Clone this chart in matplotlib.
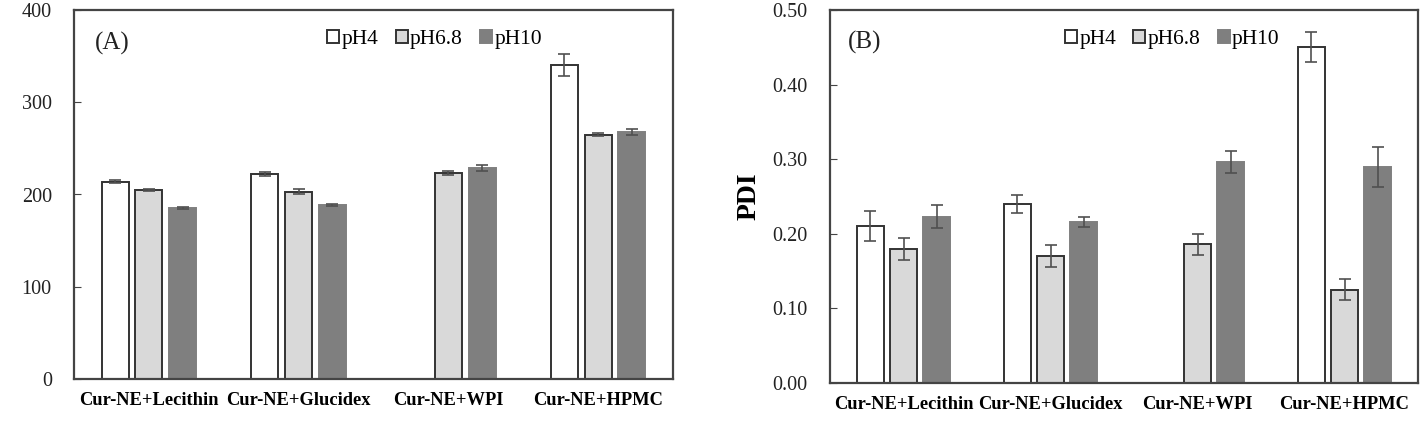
import matplotlib.pyplot as plt
import numpy as np

plt.rcParams['font.family'] = 'Liberation Serif'

groups = ['Cur-NE+Lecithin', 'Cur-NE+Glucidex', 'Cur-NE+WPI', 'Cur-NE+HPMC']
series = ['pH4', 'pH6.8', 'pH10']

# panel A: size
size_ph4 = [214, 222, np.nan, 340]
size_ph68 = [205, 203, 223, 265]
size_ph10 = [185, 189, 229, 268]
size_err_ph4 = [2, 2, np.nan, 12]
size_err_ph68 = [1, 3, 2, 2]
size_err_ph10 = [1, 1, 3, 3]

# panel B: PDI
pdi_ph4 = [0.21, 0.24, np.nan, 0.45]
pdi_ph68 = [0.18, 0.17, 0.186, 0.125]
pdi_ph10 = [0.223, 0.216, 0.296, 0.29]
pdi_err_ph4 = [0.02, 0.012, np.nan, 0.02]
pdi_err_ph68 = [0.015, 0.015, 0.014, 0.014]
pdi_err_ph10 = [0.015, 0.007, 0.015, 0.027]

faces = ['white', '#d9d9d9', '#7f7f7f']
edges = ['#333333', '#333333', '#7f7f7f']

W, H = 1425, 423
fig = plt.figure(figsize=(W / 100, H / 100), dpi=100)
axA = fig.add_axes([74 / W, (H - 379) / H, 599 / W, 369 / H])
axB = fig.add_axes([830 / W, (H - 383) / H, 588 / W, 373 / H])


def draw(ax, vals, errs, ylim, yticks, fmt, tag, tagpos, legx, legy):
    x = np.arange(len(groups))
    for i, (v, e) in enumerate(zip(vals, errs)):
        ax.bar(x + (i - 1) * 0.225, v, 0.18, color=faces[i], edgecolor=edges[i],
               linewidth=1.4, label=series[i], zorder=2)
        ax.errorbar(x + (i - 1) * 0.225, v, yerr=e, fmt='none', ecolor='#505050',
                    elinewidth=1.2, capsize=4, capthick=1.2, zorder=3)
    ax.set_xlim(-0.5, 3.5)
    ax.set_ylim(*ylim)
    ax.set_yticks(yticks)
    ax.set_yticklabels([fmt.format(t) for t in yticks], fontsize=14.5, color='#222222')
    ax.set_xticks(x)
    ax.set_xticklabels(groups, fontsize=13.3, fontweight='bold')
    ax.tick_params(axis='x', length=0, pad=9)
    ax.tick_params(axis='y', direction='in', length=5, color='#444444', pad=16)
    for s in ax.spines.values():
        s.set_color('#444444')
        s.set_linewidth(1.6)
    ax.text(tagpos[0], tagpos[1], tag, transform=ax.transAxes, fontsize=18,
            va='center', color='#222222')
    ax.legend(loc='center', bbox_to_anchor=(legx, legy), ncol=3, frameon=False,
              fontsize=15.5, handlelength=0.56, handleheight=0.56, handletextpad=0.1,
              columnspacing=0.8, borderaxespad=0)


draw(axA, [size_ph4, size_ph68, size_ph10], [size_err_ph4, size_err_ph68, size_err_ph10],
     (0, 400), [0, 100, 200, 300, 400], '{:.0f}', '(A)', (0.035, 0.908), 0.602, 0.919)
draw(axB, [pdi_ph4, pdi_ph68, pdi_ph10], [pdi_err_ph4, pdi_err_ph68, pdi_err_ph10],
     (0, 0.5), [0, 0.1, 0.2, 0.3, 0.4, 0.5], '{:.2f}', '(B)', (0.031, 0.914), 0.582, 0.92)
axB.set_ylabel('PDI', fontsize=20, fontweight='bold', labelpad=8)

fig.savefig('out.png', dpi=100)
